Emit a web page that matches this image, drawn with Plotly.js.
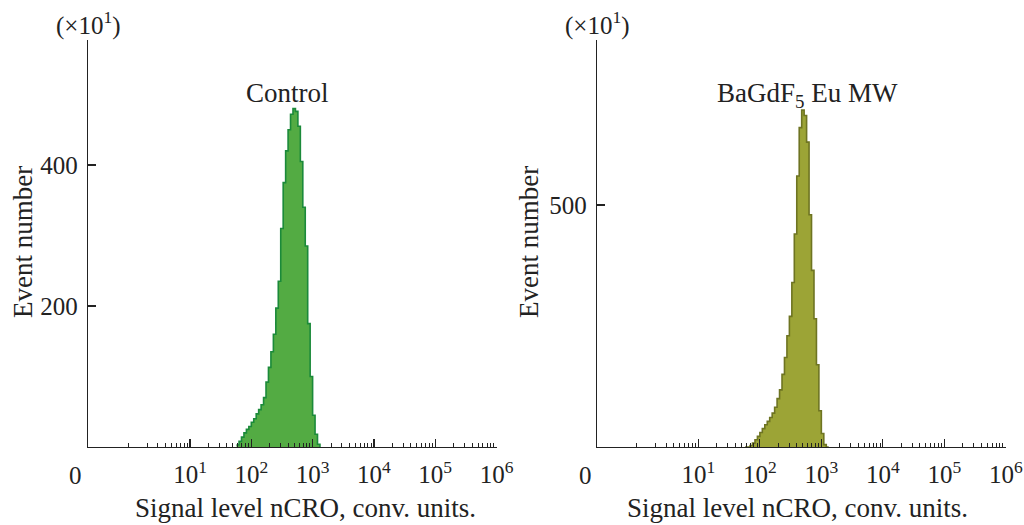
<!DOCTYPE html>
<html>
<head>
<meta charset="utf-8">
<script src="https://cdn.plot.ly/plotly-3.0.1.min.js"></script>
<style>
html,body{margin:0;padding:0;background:#fff;}
#chart{width:1024px;height:525px;}
</style>
</head>
<body>
<div id="chart"></div>
<script>
// Bin left edges on the signal axis (conv. units), last value closes the final bin
const signalEdges = [57.5, 63.1, 69.2, 75.9, 83.2, 91.2, 100, 109.6, 120.2, 131.8, 144.5, 158.5,
  173.8, 190.5, 208.9, 229.1, 251.2, 275.4, 302, 331.1, 363.1, 398.1, 436.5, 478.6, 524.8,
  575.4, 631, 691.8, 758.6, 831.8, 912, 1000, 1096, 1202, 1318];
// Event number (x10^1) per bin
const controlCounts = [3, 8, 14, 20, 25, 29, 35, 40, 47, 53, 60, 70, 92, 113, 135, 160, 197, 235,
  310, 375, 420, 450, 472, 480, 476, 455, 405, 340, 285, 175, 100, 45, 18, 4, 0];
const bagdfCounts = [0, 0, 3, 8, 15, 22, 30, 38, 46, 53, 61, 70, 82, 100, 118, 150, 185, 230,
  270, 340, 440, 560, 660, 696, 685, 630, 480, 365, 265, 170, 75, 28, 5, 0, 0];

const majorTickVals = [10, 100, 1000, 10000, 100000, 1000000];
const majorTickText = ['10<sup>1</sup>', '10<sup>2</sup>', '10<sup>3</sup>', '10<sup>4</sup>', '10<sup>5</sup>', '10<sup>6</sup>'];
const leftYTicks = [200, 400];
const rightYTicks = [500];
const panelTitles = ['Control', 'BaGdF<sub>5</sub> Eu MW'];
const xTitle = 'Signal level nCRO, conv. units.';
const yTitle = 'Event number';
const yScaleNote = '(×10<sup>1</sup>)';

const minorTickVals = [];
for (let d = 0; d < 6; d++) {
  for (let k = 1; k <= 9; k++) {
    if (k === 1 && d > 0) continue;
    minorTickVals.push(k * Math.pow(10, d));
  }
}

const FONT = 'Liberation Serif, Times New Roman, serif';
const W = 1024, H = 525;
const px = v => v / W;
const py = v => (H - v) / H;

const traces = [
  {x: signalEdges, y: controlCounts, type: 'scatter', mode: 'lines', line: {shape: 'hv', color: '#1b8a3a', width: 1.6},
   fill: 'tozeroy', fillcolor: '#53ab43', xaxis: 'x', yaxis: 'y', hoverinfo: 'skip'},
  {x: signalEdges, y: bagdfCounts, type: 'scatter', mode: 'lines', line: {shape: 'hv', color: '#6e7422', width: 1.6},
   fill: 'tozeroy', fillcolor: '#9ca436', xaxis: 'x2', yaxis: 'y2', hoverinfo: 'skip'}
];

function xAxis(domain, range) {
  return {
    type: 'log', domain: domain, range: range, showgrid: false, zeroline: false,
    showline: true, linecolor: '#222', linewidth: 1.3,
    tickmode: 'array', tickvals: majorTickVals, ticktext: majorTickText,
    ticks: 'inside', ticklen: 8, tickwidth: 1.2, tickcolor: '#222',
    tickfont: {family: FONT, size: 25, color: '#222'}, ticklabelstandoff: 5,
    minor: {tickmode: 'array', tickvals: minorTickVals, ticks: 'inside', ticklen: 4, tickwidth: 1, tickcolor: '#222'},
    fixedrange: true
  };
}
function yAxis(domain, range, ticks, anchor) {
  return {
    domain: domain, range: range, anchor: anchor, showgrid: false, zeroline: false,
    showline: true, linecolor: '#222', linewidth: 1.3,
    tickmode: 'array', tickvals: ticks, ticktext: ticks.map(String),
    ticks: 'inside', ticklen: 8, tickwidth: 1.2, tickcolor: '#222',
    tickfont: {family: FONT, size: 25, color: '#222'}, ticklabelstandoff: 4,
    fixedrange: true
  };
}

function note(text, x, y, size, extra) {
  return Object.assign({text: text, x: px(x), y: py(y), xref: 'paper', yref: 'paper', showarrow: false,
    xanchor: 'center', yanchor: 'middle', font: {family: FONT, size: size, color: '#222'}}, extra || {});
}

const yDom = [py(447), py(40)];
const layout = {
  width: W, height: H, margin: {l: 0, r: 0, t: 0, b: 0},
  paper_bgcolor: '#fff', plot_bgcolor: 'rgba(0,0,0,0)', showlegend: false,
  font: {family: FONT, color: '#222'},
  xaxis: Object.assign(xAxis([px(88), px(497)], [-0.664, 6.008]), {anchor: 'y'}),
  yaxis: yAxis(yDom, [0, 577.3], leftYTicks, 'x'),
  xaxis2: Object.assign(xAxis([px(597), px(1006)], [-0.650, 6.004]), {anchor: 'y2'}),
  yaxis2: yAxis(yDom, [0, 841], rightYTicks, 'x2'),
  annotations: [
    note(panelTitles[0], 287, 93, 27),
    note(panelTitles[1], 807, 95, 27),
    note(yScaleNote, 88, 23, 25),
    note(yScaleNote, 597, 23, 25),
    note('0', 75, 475, 25),
    note('0', 585, 475, 25),
    note(xTitle, 305, 508, 27),
    note(xTitle, 797, 508, 27),
    note(yTitle, 23, 242, 27, {textangle: -90}),
    note(yTitle, 529, 242, 27, {textangle: -90})
  ]
};

Plotly.newPlot('chart', traces, layout, {staticPlot: true, displayModeBar: false});
</script>
</body>
</html>
